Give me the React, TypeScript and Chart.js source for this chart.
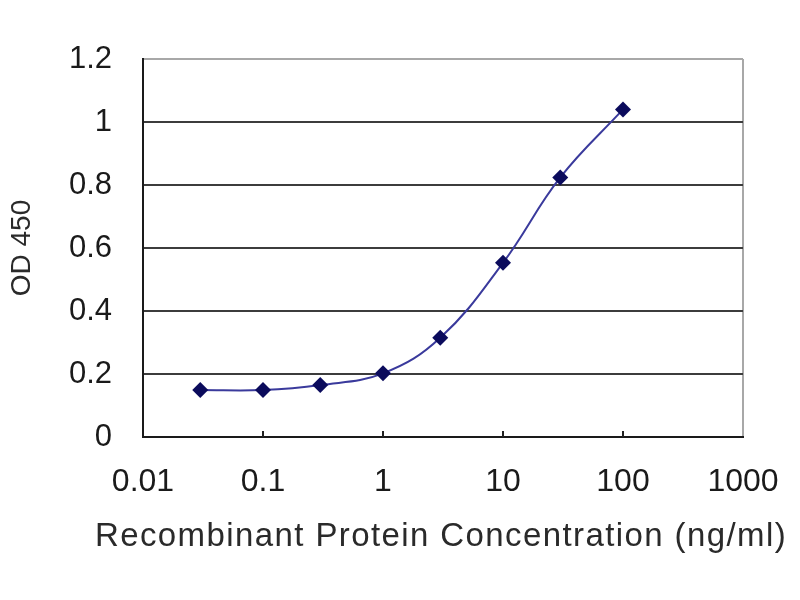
import { Chart, registerables } from "chart.js";
import { useEffect, useRef } from "react";

Chart.register(...registerables);

// recombinant protein concentration (ng/ml) and measured OD 450
const concentrations = [0.03, 0.1, 0.3, 1, 3, 10, 30, 100];
const od450 = [0.149, 0.149, 0.165, 0.202, 0.315, 0.553, 0.824, 1.04];

const xTicks = [0.01, 0.1, 1, 10, 100, 1000];
const xTickLabels = ["0.01", "0.1", "1", "10", "100", "1000"];
const yTicks = [0, 0.2, 0.4, 0.6, 0.8, 1, 1.2];
const yTickLabels = ["0", "0.2", "0.4", "0.6", "0.8", "1", "1.2"];

const xTitle = "Recombinant Protein Concentration (ng/ml)";
const yTitle = "OD 450";

const FONT = "'Liberation Sans', Arial, sans-serif";

// small tick marks pointing up into the plot at each decade
const innerTicks = {
  id: "innerTicks",
  afterDraw(chart: any) {
    const { ctx, chartArea, scales } = chart;
    const x = scales.x;
    ctx.save();
    ctx.strokeStyle = "#222";
    ctx.lineWidth = 2;
    x.ticks.forEach((t: any) => {
      if (t.value <= x.min || t.value >= x.max) return;
      const px = x.getPixelForValue(t.value);
      ctx.beginPath();
      ctx.moveTo(px, chartArea.bottom);
      ctx.lineTo(px, chartArea.bottom - 6);
      ctx.stroke();
    });
    ctx.restore();
  },
};

// x title drawn by hand so it can be letter-spaced like the original
const spacedXTitle = {
  id: "spacedXTitle",
  afterDraw(chart: any) {
    const { ctx } = chart;
    ctx.save();
    ctx.font = `33px ${FONT}`;
    (ctx as any).letterSpacing = "1.4px";
    ctx.fillStyle = "#2a2a2a";
    ctx.textAlign = "center";
    ctx.textBaseline = "middle";
    ctx.fillText(xTitle, 441, 537);
    ctx.restore();
  },
};

const ElisaChart = () => {
  const chartRef = useRef<HTMLCanvasElement>(null);

  useEffect(() => {
    if (!chartRef.current) return;
    const ctx = chartRef.current.getContext("2d");
    if (!ctx) return;

    const chart = new Chart(ctx, {
      type: "line",
      data: {
        datasets: [
          {
            data: concentrations.map((c, i) => ({ x: c, y: od450[i] })),
            borderColor: "#3a3a9c",
            borderWidth: 2,
            tension: 0.4,
            pointStyle: "rectRot",
            pointRadius: 8,
            pointBackgroundColor: "#0b0b5c",
            pointBorderColor: "#0b0b5c",
            pointBorderWidth: 0,
          },
        ],
      },
      options: {
        responsive: true,
        maintainAspectRatio: false,
        animation: false,
        layout: { padding: { top: 59, right: 57, left: 0, bottom: 0 } },
        plugins: {
          legend: { display: false },
          tooltip: { enabled: false },
        },
        scales: {
          x: {
            type: "logarithmic",
            min: 0.01,
            max: 1000,
            afterBuildTicks: (scale: any) => {
              scale.ticks = xTicks.map((v) => ({ value: v }));
            },
            afterFit: (scale: any) => {
              scale.height = 163;
              scale.paddingLeft = 0;
              scale.paddingRight = 0;
            },
            ticks: {
              autoSkip: false,
              maxRotation: 0,
              padding: 26,
              color: "#1a1a1a",
              font: { family: FONT, size: 32 },
              callback: (_v: any, i: number) => xTickLabels[i],
            },
            grid: {
              drawTicks: false,
              lineWidth: 2,
              color: (c: any) =>
                c.tick && c.tick.value === 1000 ? "#a8a8a8" : "rgba(0,0,0,0)",
            },
            border: { display: true, color: "#1a1a1a", width: 2 },
            title: { display: false, text: xTitle },
          },
          y: {
            min: 0,
            max: 1.2,
            afterBuildTicks: (scale: any) => {
              scale.ticks = yTicks.map((v) => ({ value: v }));
            },
            afterFit: (scale: any) => {
              scale.width = 143;
            },
            ticks: {
              padding: 31,
              color: "#1a1a1a",
              font: { family: FONT, size: 31 },
              callback: (_v: any, i: number) => yTickLabels[i],
            },
            grid: {
              drawTicks: false,
              lineWidth: 2,
              color: (c: any) =>
                c.tick && Math.abs(c.tick.value - 1.2) < 1e-6
                  ? "#a8a8a8"
                  : "#3c3c3c",
            },
            border: { display: true, color: "#1a1a1a", width: 2 },
            title: {
              display: true,
              text: yTitle,
              color: "#2a2a2a",
              font: { family: FONT, size: 28 },
              padding: { top: 5, bottom: 0 },
            },
          },
        },
      },
      plugins: [innerTicks, spacedXTitle],
    });

    return () => chart.destroy();
  }, []);

  return (
    <div
      style={{
        position: "fixed",
        left: 0,
        top: 0,
        width: 800,
        height: 600,
        background: "#fff",
      }}
    >
      <canvas ref={chartRef}></canvas>
    </div>
  );
};

export default function App() {
  return <ElisaChart />;
}
